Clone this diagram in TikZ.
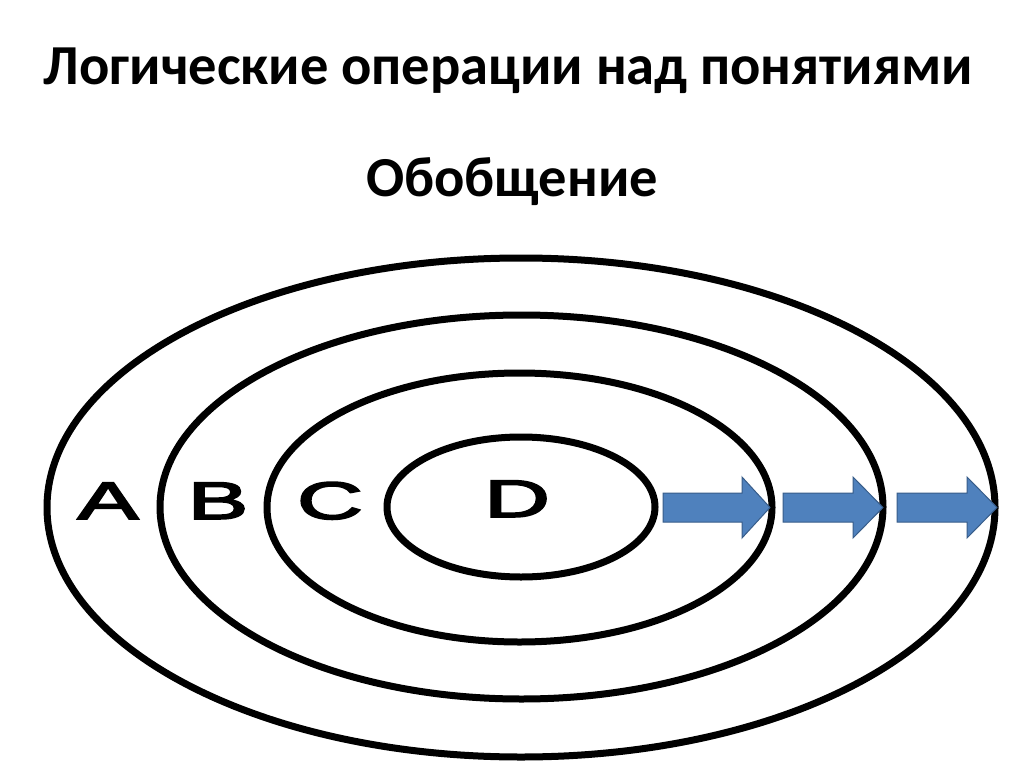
\documentclass[tikz,border=0pt]{standalone}
\usepackage{fontspec}
\setmainfont{Carlito}
\newfontfamily\letterfont{Liberation Sans}
\definecolor{arrowfill}{HTML}{4F81BD}
\definecolor{arrowline}{HTML}{385D8A}
\newcommand{\heavyletter}[1]{\special{pdf:literal direct 2 Tr 1.5 w}#1\special{pdf:literal direct 0 Tr}}
\tikzset{
  ring/.style={draw=black, line width=7pt},
  blockarrow/.style={fill=arrowfill, draw=arrowline, line width=1pt, line join=miter},
  titletext/.style={inner sep=0pt, anchor=base, font=\fontsize{56.5}{66}\selectfont\bfseries},
  lettertext/.style={inner sep=0pt, anchor=base, xscale=1.72, font=\letterfont\fontsize{53}{60}\selectfont}
}
\begin{document}
\begin{tikzpicture}[x=1pt,y=-1pt]
\useasboundingbox (0,0) rectangle (1024,767);
\fill[white] (0,0) rectangle (1024,767);
% titles
\node[titletext] (title) at (508.5,85) {Логические операции над понятиями};
\node[titletext] (subtitle) at (512,197) {Обобщение};
% concentric ellipses
\draw[ring] (521,507.5) ellipse [x radius=474, y radius=249.5];
\draw[ring] (521.5,507) ellipse [x radius=361.5, y radius=192];
\draw[ring] (519.5,507.5) ellipse [x radius=252.5, y radius=134.5];
\draw[ring] (521,507) ellipse [x radius=134, y radius=70];
% letters
\node[lettertext] (A) at (108,519) {\heavyletter{A}};
\node[lettertext] (B) at (218,519) {\heavyletter{B}};
\node[lettertext] (C) at (330,519) {\heavyletter{C}};
\node[lettertext] (D) at (517,517) {\heavyletter{D}};
% block arrows
\draw[blockarrow] (663,493)--(742,493)--(742,477)--(770,507.5)--(742,538)--(742,522)--(663,522)--cycle;
\draw[blockarrow] (783,493)--(853,493)--(853,477)--(883,507.5)--(853,538)--(853,522)--(783,522)--cycle;
\draw[blockarrow] (897,493)--(967,493)--(967,477)--(997,507.5)--(967,538)--(967,522)--(897,522)--cycle;
\end{tikzpicture}
\end{document}
